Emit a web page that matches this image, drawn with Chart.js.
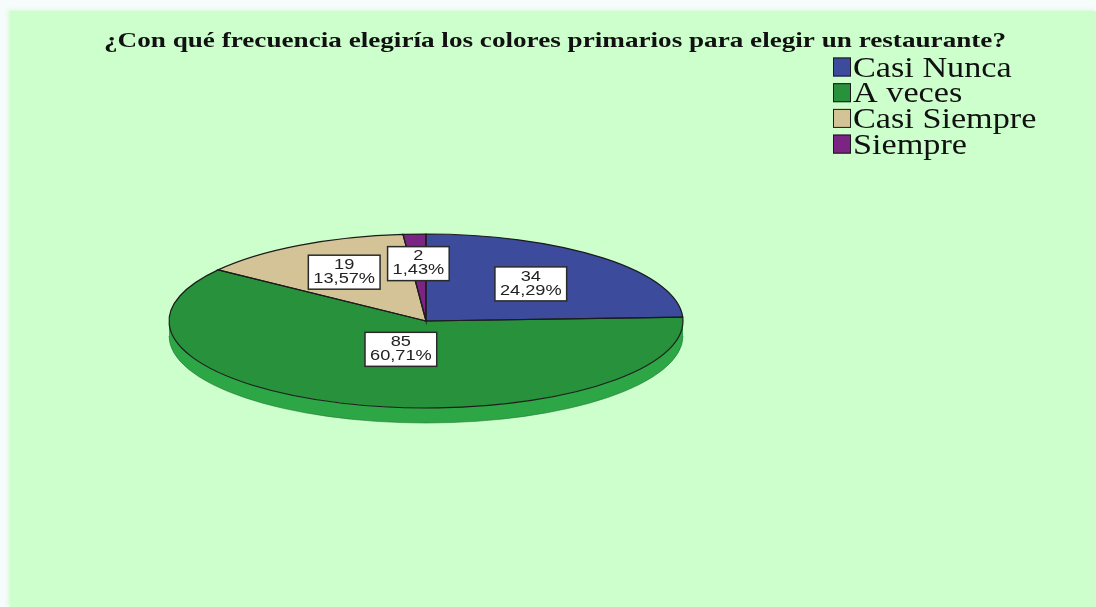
<!DOCTYPE html>
<html>
<head>
<meta charset="utf-8">
<script src="https://cdn.jsdelivr.net/npm/chart.js@4.4.0/dist/chart.umd.min.js"></script>
<style>
  html, body { margin: 0; padding: 0; width: 1096px; height: 607px; overflow: hidden; background: #f6fbfb; }
  #panel { position: absolute; left: 10px; top: 11px; width: 1086px; height: 596px; background: #ccffcc; box-shadow: -2px -1px 4px #d8f8d8; }
  #c { position: absolute; left: 0; top: 0; }
</style>
</head>
<body>
<div id="panel"></div>
<canvas id="c" width="1096" height="607"></canvas>
<script>
// Survey answers and their counts
const categories = ['Casi Nunca', 'A veces', 'Casi Siempre', 'Siempre'];
const counts = [34, 85, 19, 2];
const chartTitle = '¿Con qué frecuencia elegiría los colores primarios para elegir un restaurante?';

// Slice colours (top face and front wall)
const faceColors = ['#3c4b9c', '#28913c', '#d3c397', '#7b2483'];
const sideColors = ['#2f3d85', '#2da646', '#b9aa7c', '#5f1a67'];

// Where each value box sits along its slice's middle radius (fraction of radius)
const labelRadius = [0.59, 0.34, 0.645, 0.66];

const TILT = 87 / 257;      // vertical squash of the pie disc
const DEPTH = 15;           // thickness of the disc wall
const TEXT_STRETCH = 1.3;   // horizontal stretch of the value box text

const total = counts.reduce((a, b) => a + b, 0);
const percentText = v => (v / total * 100).toFixed(2).replace('.', ',') + '%';

function stretchedText(ctx, text, x, y, align, sx) {
  ctx.save();
  ctx.translate(x, y);
  ctx.scale(sx, 1);
  ctx.textAlign = align;
  ctx.fillText(text, 0, 0);
  ctx.restore();
}

function squash(ctx, cx, cy) {
  ctx.translate(cx, cy);
  ctx.scale(1, TILT);
  ctx.translate(-cx, -cy);
}

// Draws the pie as a tilted disc: wall first, squashed top face, crisp outlines and value boxes
const pie3d = {
  id: 'pie3d',
  beforeDatasetsDraw(chart) {
    const ctx = chart.ctx;
    const meta = chart.getDatasetMeta(0);
    const first = meta.data[0];
    const cx = first.x, cy = first.y, r = first.outerRadius, ry = r * TILT;

    meta.data.forEach((el, i) => {
      const a = Math.max(el.startAngle, 0);
      const b = Math.min(el.endAngle, Math.PI);
      if (b <= a) return;
      ctx.beginPath();
      ctx.ellipse(cx, cy, r, ry, 0, a, b);
      ctx.ellipse(cx, cy + DEPTH, r, ry, 0, b, a, true);
      ctx.closePath();
      ctx.fillStyle = sideColors[i];
      ctx.fill();
    });
    ctx.beginPath();
    ctx.ellipse(cx, cy + DEPTH, r, ry, 0, 0, Math.PI);
    ctx.strokeStyle = 'rgba(30,110,45,0.55)';
    ctx.lineWidth = 1;
    ctx.stroke();

    ctx.save();
    squash(ctx, cx, cy);
  },
  afterDatasetsDraw(chart) {
    const ctx = chart.ctx;
    ctx.restore();
    const meta = chart.getDatasetMeta(0);
    const first = meta.data[0];
    const cx = first.x, cy = first.y, r = first.outerRadius;

    // slice outlines, stroked without the squash so lines keep their width
    meta.data.forEach(el => {
      ctx.save();
      squash(ctx, cx, cy);
      ctx.beginPath();
      ctx.moveTo(cx, cy);
      ctx.arc(cx, cy, r, el.startAngle, el.endAngle);
      ctx.closePath();
      ctx.restore();
      ctx.lineWidth = 1.2;
      ctx.strokeStyle = '#1c1c1c';
      ctx.stroke();
    });

    // value boxes
    ctx.font = '14px "Liberation Sans", Arial, sans-serif';
    ctx.textBaseline = 'middle';
    meta.data.forEach((el, i) => {
      const mid = (el.startAngle + el.endAngle) / 2;
      const f = labelRadius[i];
      const px = cx + Math.cos(mid) * r * f;
      const py = cy + Math.sin(mid) * r * f * TILT;
      const l1 = String(counts[i]);
      const l2 = percentText(counts[i]);
      const w = Math.max(ctx.measureText(l1).width, ctx.measureText(l2).width) * TEXT_STRETCH + 10;
      const h = 34;
      ctx.fillStyle = '#ffffff';
      ctx.fillRect(px - w / 2, py - h / 2, w, h);
      ctx.lineWidth = 1.5;
      ctx.strokeStyle = '#2a2a2a';
      ctx.strokeRect(px - w / 2, py - h / 2, w, h);
      ctx.fillStyle = '#222222';
      stretchedText(ctx, l1, px, py - 7, 'center', TEXT_STRETCH);
      stretchedText(ctx, l2, px, py + 7, 'center', TEXT_STRETCH);
    });
  },
  afterDraw(chart) {
    const ctx = chart.ctx;
    ctx.save();
    // title
    ctx.fillStyle = '#111111';
    ctx.textBaseline = 'alphabetic';
    ctx.font = 'bold 22px "Liberation Serif", "Times New Roman", serif';
    const tw = ctx.measureText(chartTitle).width;
    stretchedText(ctx, chartTitle, 555, 47, 'center', 902 / tw);

    // legend
    ctx.font = '29px "Liberation Serif", "Times New Roman", serif';
    categories.forEach((name, i) => {
      const yc = 67 + i * 25.7;
      ctx.fillStyle = faceColors[i];
      ctx.fillRect(833, yc - 9.5, 18, 19);
      ctx.lineWidth = 1;
      ctx.strokeStyle = '#1a1a1a';
      ctx.strokeRect(833.5, yc - 9, 17, 18);
      ctx.fillStyle = '#111111';
      stretchedText(ctx, name, 853, yc + 9.5, 'left', 1.18);
    });
    ctx.restore();
  }
};

new Chart(document.getElementById('c'), {
  type: 'pie',
  data: {
    labels: categories,
    datasets: [{
      data: counts,
      backgroundColor: faceColors,
      borderWidth: 0,
      radius: 257
    }]
  },
  options: {
    responsive: false,
    animation: false,
    devicePixelRatio: 1,
    layout: { padding: { left: 160, right: 404, top: 40, bottom: 5 } },
    plugins: {
      legend: { display: false },
      tooltip: { enabled: false },
      title: { display: false }
    },
    events: []
  },
  plugins: [pie3d]
});
</script>
</body>
</html>
